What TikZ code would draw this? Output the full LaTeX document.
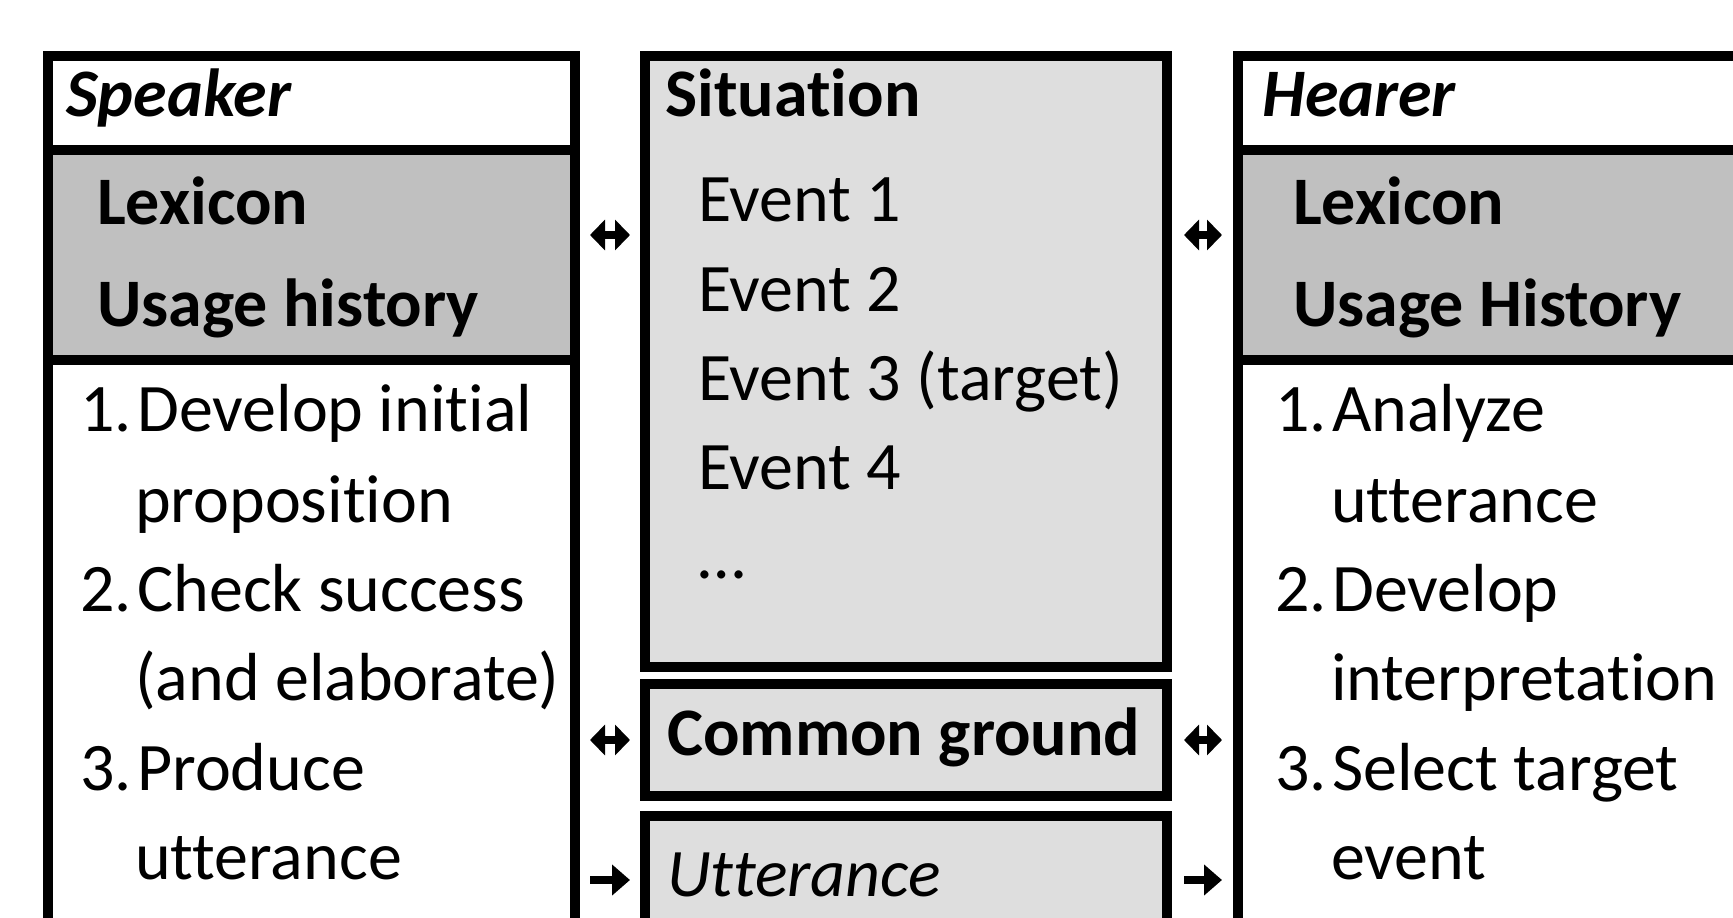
\documentclass[tikz,border=0pt]{standalone}
\usepackage{fontspec}
\setmainfont{Carlito}[Ligatures={NoCommon,NoContextual}]
\usetikzlibrary{arrows.meta}
\definecolor{sidegray}{HTML}{C0C0C0}
\definecolor{midgray}{HTML}{DEDEDE}
\begin{document}
\begin{tikzpicture}[x=1pt,y=-1pt,
  panel/.style={draw=black,line width=10pt,rectangle,inner sep=0pt,anchor=north west},
  txt/.style={anchor=base west,inner sep=0pt,font=\fontsize{68pt}{80pt}\selectfont},
  btxt/.style={txt,font=\fontsize{68pt}{80pt}\selectfont\bfseries},
  bitxt/.style={txt,font=\fontsize{68pt}{80pt}\selectfont\bfseries\itshape},
  itxt/.style={txt,font=\fontsize{68pt}{80pt}\selectfont\itshape},
  twoway/.style={line width=8pt,{Triangle[length=15pt,width=30pt]}-{Triangle[length=15pt,width=30pt]}},
  oneway/.style={line width=8pt,-{Triangle[length=18pt,width=30pt]}}
]
\useasboundingbox (0,0) rectangle (1733,918);
\clip (0,0) rectangle (1733,918);
\fill[white] (0,0) rectangle (1733,918);

% Speaker column
\node[panel,fill=white,minimum width=527pt,minimum height=94pt] (spkhead) at (43,51) {};
\node[panel,fill=sidegray,minimum width=527pt,minimum height=210pt] (spklex) at (43,145) {};
\node[panel,fill=white,minimum width=527pt,minimum height=620pt] (spklist) at (43,355) {};

% Middle column
\node[panel,fill=midgray,minimum width=522pt,minimum height=611pt] (sit) at (640,51) {};
\node[panel,fill=midgray,minimum width=522pt,minimum height=112pt] (cg) at (640,679) {};
\node[panel,fill=midgray,minimum width=522pt,minimum height=160pt] (utt) at (640,811) {};

% Hearer column
\node[panel,fill=white,minimum width=560pt,minimum height=94pt] (hrhead) at (1233,51) {};
\node[panel,fill=sidegray,minimum width=560pt,minimum height=210pt] (hrlex) at (1233,145) {};
\node[panel,fill=white,minimum width=560pt,minimum height=620pt] (hrlist) at (1233,355) {};

% Speaker texts
\node[bitxt] (spk) at (66,116) {Speaker};
\node[btxt] (spklx) at (97,224) {Lexicon};
\node[btxt] (spkuh) at (97,326) {Usage history};
\node[txt] (s1n) at (80,431) {1.};
\node[txt] (s1a) at (137,431) {Develop initial};
\node[txt] (s1b) at (135,522) {proposition};
\node[txt] (s2n) at (80,611) {2.};
\node[txt] (s2a) at (137,611) {Check success};
\node[txt] (s2b) at (135,700) {(and elaborate)};
\node[txt] (s3n) at (80,790) {3.};
\node[txt] (s3a) at (137,790) {Produce};
\node[txt] (s3b) at (135,879) {utterance};

% Middle texts
\node[btxt] (sitt) at (665,116) {Situation};
\node[txt] (e1) at (698,221) {Event 1};
\node[txt] (e2) at (698,311) {Event 2};
\node[txt] (e3) at (698,400) {Event 3 (target)};
\node[txt] (e4) at (698,489) {Event 4};
\node[txt] (e5) at (698,578) {…};
\node[btxt] (cgt) at (667,755) {Common ground};
\node[itxt] (uttt) at (667,896) {Utterance};

% Hearer texts
\node[bitxt] (hr) at (1262,116) {Hearer};
\node[btxt] (hrlx) at (1293,224) {Lexicon};
\node[btxt] (hruh) at (1293,326) {Usage History};
\node[txt] (h1n) at (1275,431) {1.};
\node[txt] (h1a) at (1332,431) {Analyze};
\node[txt] (h1b) at (1331,522) {utterance};
\node[txt] (h2n) at (1275,611) {2.};
\node[txt] (h2a) at (1332,611) {Develop};
\node[txt] (h2b) at (1331,700) {interpretation};
\node[txt] (h3n) at (1275,790) {3.};
\node[txt] (h3a) at (1332,790) {Select target};
\node[txt] (h3b) at (1331,879) {event};

% Connectors
\draw[twoway,shorten <=10pt,shorten >=10pt] (spklex.east |- 0,235) -- (sit.west |- 0,235);
\draw[twoway,shorten <=12pt,shorten >=11pt] (sit.east |- 0,235) -- (hrlex.west |- 0,235);
\draw[twoway,shorten <=10pt,shorten >=10pt] (spklist.east |- cg.west) -- (cg.west);
\draw[twoway,shorten <=12pt,shorten >=11pt] (cg.east) -- (hrlist.west |- cg.east);
\draw[oneway,shorten <=10pt,shorten >=10pt] (spklist.east |- 0,880) -- (utt.west |- 0,880);
\draw[oneway,shorten <=12pt,shorten >=11pt] (utt.east |- 0,880) -- (hrlist.west |- 0,880);
\end{tikzpicture}
\end{document}
